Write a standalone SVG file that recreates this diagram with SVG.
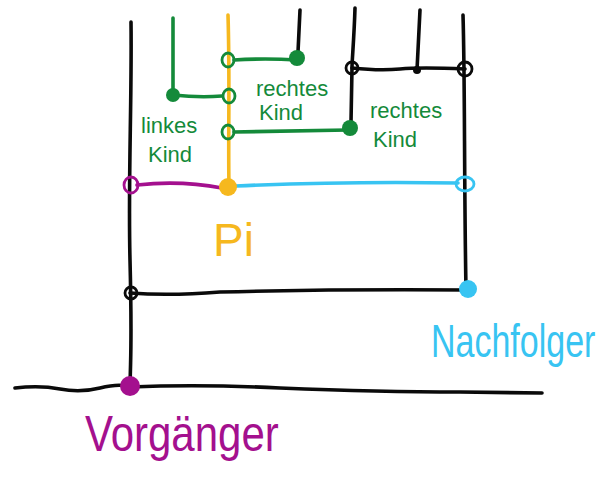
<svg xmlns="http://www.w3.org/2000/svg" width="612" height="490" viewBox="0 0 612 490">
<style>
.ln{fill:none;stroke-width:3.6;stroke-linecap:round;stroke-linejoin:round}
.k{stroke:#0a0a0a}.g{stroke:#148a3a}.o{stroke:#f6b81e}.m{stroke:#a4108e}.b{stroke:#38c4f2}
.oc{fill:none;stroke-width:2.8}
.t{font-family:"Liberation Sans","DejaVu Sans",sans-serif}
.gt{fill:#148a3a;font-size:22px}
</style>
<rect width="612" height="490" fill="#fff"/>
<g id="connectors">
<path class="ln k" d="M131,22 C132,100 128,180 130,260 S131,340 130,388"/>
<path class="ln k" d="M15,388 Q40,385 60,389 T100,388 T130,387 Q200,384 280,388 Q380,392 460,392 L542,393"/>
<path class="ln k" d="M463,15 C465,80 464,180 466,290"/>
<path class="ln k" d="M352,68 Q380,71 400,69 T465,69"/>
<path class="ln k" d="M355,8 C354,40 352,60 352,68 L351,122"/>
<path class="ln k" d="M420,10 L417,70"/>
<path class="ln k" d="M300,10 L298,52"/>
<path class="ln k" d="M130,293 Q170,296 220,292 Q340,289 468,290"/>
<path class="ln g" d="M173,18 L173,95 Q200,98 222,96"/>
<path class="ln g" d="M234,60 Q265,58 297,60"/>
<path class="ln g" d="M234,132 Q290,131 348,130"/>
<path class="ln o" d="M228,15 C230,80 228,140 229,187"/>
<path class="ln m" d="M137,185 Q180,180 222,188"/>
<path class="ln b" d="M236,186 Q350,181 458,183"/>
</g>
<g id="linkes-kind">
<circle cx="173" cy="95" r="7" fill="#148a3a"/>
<ellipse class="oc g" cx="229" cy="96" rx="6" ry="7"/>
<text class="t gt" x="141" y="133">linkes</text>
<text class="t gt" x="148" y="162">Kind</text>
</g>
<g id="rechtes-kind-1">
<ellipse class="oc g" cx="228" cy="60" rx="6" ry="7"/>
<circle cx="297" cy="58" r="8" fill="#148a3a"/>
<text class="t gt" x="256" y="96">rechtes</text>
<text class="t gt" x="259" y="120">Kind</text>
</g>
<g id="rechtes-kind-2">
<ellipse class="oc g" cx="228" cy="132" rx="6" ry="7"/>
<circle cx="350" cy="128" r="8" fill="#148a3a"/>
<text class="t gt" x="370" y="118">rechtes</text>
<text class="t gt" x="373" y="147">Kind</text>
</g>
<g id="junctions">
<ellipse class="oc k" cx="352" cy="68" rx="6" ry="6"/>
<ellipse class="oc k" cx="465" cy="69" rx="7" ry="7"/>
<circle cx="417" cy="70" r="4" fill="#0a0a0a"/>
<ellipse class="oc k" cx="131" cy="293" rx="6" ry="6"/>
</g>
<g id="pi">
<circle cx="228" cy="187" r="9" fill="#f6b81e"/>
<text class="t" x="213" y="256" font-size="46" fill="#f6b81e">Pi</text>
</g>
<g id="vorgaenger">
<ellipse class="oc m" cx="131" cy="185" rx="7" ry="8"/>
<circle cx="130" cy="386" r="10" fill="#a4108e"/>
<text class="t" transform="translate(85,451) scale(1,1.2)" font-size="42" fill="#a4108e">Vorgänger</text>
</g>
<g id="nachfolger">
<ellipse class="oc b" cx="465" cy="184" rx="9" ry="7"/>
<circle cx="468" cy="289" r="9" fill="#38c4f2"/>
<text class="t" transform="translate(431,357) scale(1,1.35)" font-size="34" fill="#38c4f2">Nachfolger</text>
</g>
</svg>
